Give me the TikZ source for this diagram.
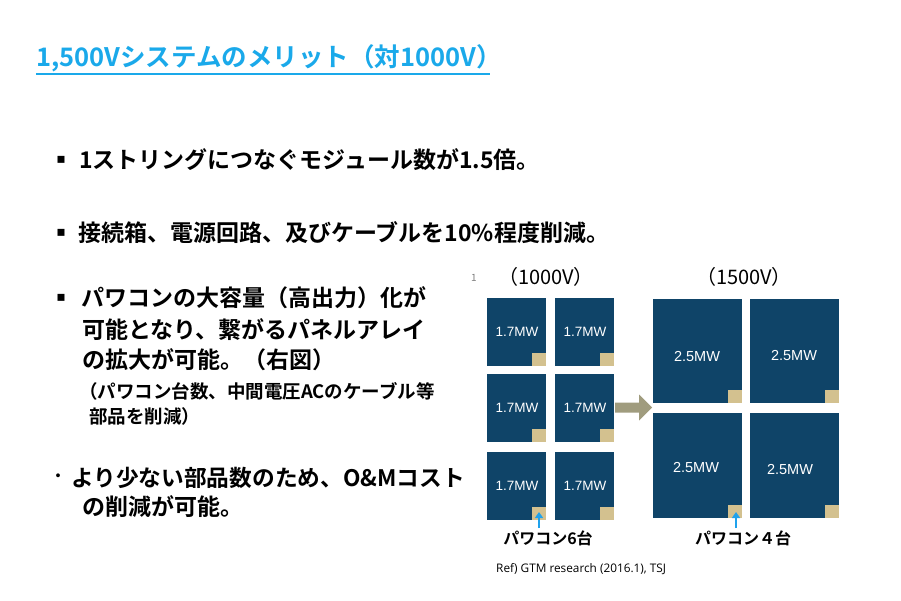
\documentclass[tikz,border=0pt]{standalone}
\usepackage{fontspec}
\usetikzlibrary{arrows.meta}
\setmainfont{Noto Sans CJK JP}
\newfontfamily\jpb{Noto Sans CJK JP Bold}
\newfontfamily\arialf{Liberation Sans}
\newfontfamily\opens{Open Sans}
\newfontfamily\dejavu{DejaVu Sans}
\definecolor{titleblue}{HTML}{1AA9EA}
\definecolor{navy}{HTML}{0F4468}
\definecolor{tan}{HTML}{D3C18F}
\definecolor{olive}{HTML}{A09C7E}
\definecolor{arrowblue}{HTML}{1FA2EC}
\tikzset{
  txt/.style={inner sep=0pt, anchor=base west},
  big/.style={txt, font=\jpb\fontsize{23}{23}\selectfont},
  small/.style={txt, font=\jpb\fontsize{18.5}{18.5}\selectfont},
  bul/.style={inner sep=0pt, font=\dejavu\fontsize{14}{14}\selectfont},
  panel/.style={fill=navy, draw=none},
  pcs/.style={fill=tan, draw=none},
  mw/.style={inner sep=0pt, text=white, font=\arialf\fontsize{13.5}{13.5}\selectfont},
  mwb/.style={inner sep=0pt, text=white, font=\arialf\fontsize{14.5}{14.5}\selectfont},
  hdr/.style={inner sep=0pt, font=\fontsize{20}{20}\selectfont},
  lbl/.style={inner sep=0pt, font=\jpb\fontsize{16}{16}\selectfont},
}
\begin{document}
\begin{tikzpicture}[x=1pt,y=-1pt]
\useasboundingbox (0,0) rectangle (901,601);
\fill[white] (0,0) rectangle (901,601);
% title
\node[txt, text=titleblue, font=\jpb\fontsize{25.5}{25.5}\selectfont] (title) at (36,67) {1,500Vシステムのメリット（対1000V）};
\coordinate (ulend) at (490,74);
\draw[titleblue, line width=1.6pt] (title.west |- ulend) -- (ulend);
% bullets
\node[bul] (b1) at (61,160) {▪};
\node[big] (t1) at (79,168.5) {1ストリングにつなぐモジュール数が1.5倍。};
\node[bul] (b2) at (61,233) {▪};
\node[big] (t2) at (78,241.5) {接続箱、電源回路、及びケーブルを10\%程度削減。};
\node[bul] (b3) at (61,298) {▪};
\node[big] (t3a) at (81,306.5) {パワコンの大容量（高出力）化が};
\node[big] (t3b) at (82,338.5) {可能となり、繋がるパネルアレイ};
\node[big] (t3c) at (82,368.5) {の拡大が可能。（右図）};
\node[small] (t3d) at (79,398.5) {（パワコン台数、中間電圧ACのケーブル等};
\node[small] (t3e) at (89,423.5) {部品を削減）};
\node[inner sep=0pt, font=\jpb\fontsize{15}{15}\selectfont] (b4) at (58,478) {・};
\node[txt, font=\jpb\fontsize{22.7}{22.7}\selectfont] (t4a) at (71,486.5) {より少ない部品数のため、O\&Mコスト};
\node[big] (t4b) at (82,515.5) {の削減が可能。};
% diagram
\node[inner sep=0pt, text=gray, font=\fontsize{10}{10}\selectfont] (frag) at (474,278) {1};
\node[hdr] (h1) at (546,277) {（1000V）};
\node[hdr] (h2) at (744,277) {（1500V）};
% left panels
\foreach \c/\x in {1/487,2/555}{
  \foreach \r/\y in {1/298,2/374,3/452}{
    \fill[panel] (\x,\y) rectangle ++(58.5,67.5);
    \fill[pcs] (\x+44.5,\y+55) rectangle ++(14,12.5);
    \node[mw] (l\c\r) at (\x+30,\y+34) {1.7MW};
  }
}
% right panels
\foreach \c/\x in {1/653,2/750}{
  \foreach \r/\y/\h in {1/299/104,2/413/105}{
    \fill[panel] (\x,\y) rectangle ++(89,\h);
    \fill[pcs] (\x+75,\y+\h-13) rectangle ++(14,13);
  }
}
\node[mwb] (r11) at (697,357) {2.5MW};
\node[mwb] (r21) at (794,356) {2.5MW};
\node[mwb] (r12) at (696,468) {2.5MW};
\node[mwb] (r22) at (790,470) {2.5MW};
% big arrow
\fill[olive] (615,402.5) -- (639,402.5) -- (639,394.5) -- (652,407.5) -- (639,420.5) -- (639,412.5) -- (615,412.5) -- cycle;
% small blue arrows
\coordinate (a1s) at (539,528);
\coordinate (a1e) at (539,512);
\coordinate (a2s) at (736,528);
\coordinate (a2e) at (736,512);
\draw[arrowblue, line width=2.2pt, -{Triangle[length=6pt,width=8pt]}] (a1s) -- (a1e);
\draw[arrowblue, line width=2.2pt, -{Triangle[length=6pt,width=8pt]}] (a2s) -- (a2e);
\node[lbl] (p6) at (548,538) {パワコン6台};
\node[lbl] (p4) at (743,538) {パワコン４台};
\node[inner sep=0pt, anchor=west, font=\opens\fontsize{11.8}{11.8}\selectfont] (ref) at (496,569) {Ref) GTM research (2016.1), TSJ};
\end{tikzpicture}
\end{document}
